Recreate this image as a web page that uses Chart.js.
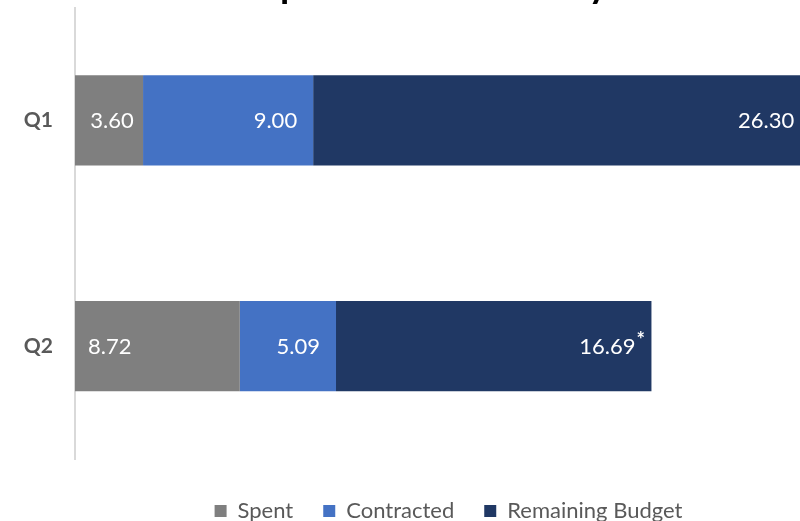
<!DOCTYPE html>
<html>
<head>
<meta charset="utf-8">
<script src="https://cdn.jsdelivr.net/npm/chart.js@4"></script>
<style>
  html, body { margin: 0; padding: 0; background: #fff; overflow: hidden; }
  #wrap { position: absolute; left: 0; top: -33px; width: 831px; height: 554px; }
</style>
</head>
<body>
<div id="wrap"><canvas id="chart"></canvas></div>
<script>
// chart data
const quarters = ['Q1', 'Q2'];
const spent = [3.60, 8.72];
const contracted = [9.00, 5.09];
const remaining = [26.30, 16.69];
const remainingNotes = ['', '*'];

// white value labels drawn inside each bar segment
const barLabels = {
  id: 'barLabels',
  afterDatasetsDraw(chart) {
    const ctx = chart.ctx;
    ctx.save();
    ctx.fillStyle = '#ffffff';
    ctx.textBaseline = 'middle';
    chart.data.datasets.forEach((ds, i) => {
      chart.getDatasetMeta(i).data.forEach((bar, j) => {
        const text = ds.data[j].toFixed(2);
        const anchor = (ds.labelAnchor || [])[j] || 'end';
        ctx.font = '22px Lato';
        let x, right;
        if (anchor === 'start') {
          ctx.textAlign = 'left';
          x = bar.base + 13;
          right = x + ctx.measureText(text).width;
        } else if (anchor === 'center') {
          ctx.textAlign = 'center';
          x = (bar.base + bar.x) / 2 + 3;
          right = x + ctx.measureText(text).width / 2;
        } else {
          ctx.textAlign = 'right';
          x = bar.x - 16;
          right = x;
        }
        ctx.fillText(text, x, bar.y + 1);
        const note = (ds.notes || [])[j];
        if (note) {
          ctx.font = 'bold 20px Lato';
          ctx.textAlign = 'left';
          ctx.fillText(note, right + 1, bar.y - 6);
        }
      });
    });
    ctx.restore();
  }
};

// move the legend a bit lower and to the right
const legendShift = {
  id: 'legendShift',
  afterLayout(chart) {
    const lg = chart.legend;
    lg.top += 11;
    lg.bottom += 11;
    lg.left += 25;
    lg.right += 25;
  }
};

new Chart(document.getElementById('chart'), {
  type: 'bar',
  data: {
    labels: quarters,
    datasets: [
      { label: 'Spent', data: spent, backgroundColor: '#7f7f7f', labelAnchor: ['center', 'start'] },
      { label: 'Contracted', data: contracted, backgroundColor: '#4472c4' },
      { label: 'Remaining Budget', data: remaining, backgroundColor: '#203864', notes: remainingNotes }
    ]
  },
  options: {
    indexAxis: 'y',
    responsive: true,
    maintainAspectRatio: false,
    animation: false,
    layout: { padding: { left: 16 } },
    datasets: {
      bar: { barPercentage: 1, categoryPercentage: 0.4 }
    },
    scales: {
      x: {
        stacked: true,
        display: false,
        min: 0,
        max: 40
      },
      y: {
        stacked: true,
        grid: { display: false },
        border: { display: true, color: '#d9d9d9', width: 2 },
        ticks: {
          padding: 14,
          color: '#595959',
          font: { family: 'Lato', size: 21, weight: 'bold' }
        },
        afterFit: (scale) => { scale.width = 59; }
      }
    },
    plugins: {
      title: {
        display: true,
        text: 'Expenditure Summary',
        color: '#000000',
        font: { family: 'Lato', size: 37.5, weight: 'bold', lineHeight: 1 },
        padding: { top: 0, bottom: 3 }
      },
      legend: {
        position: 'bottom',
        labels: {
          boxWidth: 12,
          boxHeight: 12,
          padding: 30,
          color: '#595959',
          font: { family: 'Lato', size: 22 }
        }
      },
      tooltip: { enabled: false }
    }
  },
  plugins: [barLabels, legendShift]
});
</script>
</body>
</html>
